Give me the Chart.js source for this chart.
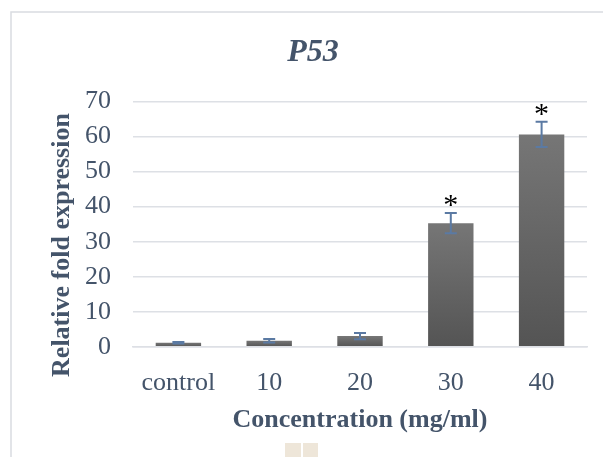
<!DOCTYPE html>
<html>
<head>
<meta charset="utf-8">
<script src="https://cdn.jsdelivr.net/npm/chart.js@4/dist/chart.umd.min.js"></script>
<style>
  html, body { margin: 0; padding: 0; background: #ffffff; }
  #wrap { width: 603px; height: 457px; position: relative; }
</style>
</head>
<body>
<div id="wrap"><canvas id="chart" width="603" height="457"></canvas></div>
<script>
// P53 relative fold expression by concentration
const categories = ['control', '10', '20', '30', '40'];
const foldExpression = [1.2, 1.8, 3.1, 35.3, 60.6];
const errorValues = [0.2, 0.5, 0.9, 2.9, 3.6];
const significance = ['', '', '', '*', '*'];
const yTicks = [0, 10, 20, 30, 40, 50, 60, 70];

const TEXT = '#44546a';
const GRID = '#dde0e5';
const SERIF = "'Liberation Serif', 'Times New Roman', serif";

// Frame round the chart, plus the small marks under the axis title
const framePlugin = {
  id: 'frame',
  beforeDraw(chart) {
    const c = chart.ctx;
    c.save();
    c.fillStyle = '#ffffff';
    c.fillRect(0, 0, chart.width, chart.height);
    c.strokeStyle = '#d9dce1';
    c.lineWidth = 1.5;
    c.beginPath();
    c.moveTo(11, chart.height + 2);
    c.lineTo(11, 12);
    c.lineTo(chart.width + 2, 12);
    c.stroke();
    c.fillStyle = '#eee6d9';
    c.fillRect(285, 443, 16, 14);
    c.fillRect(303, 443, 15, 14);
    c.restore();
  }
};

// Error bars and significance marks, placed through the y scale
const errorBarPlugin = {
  id: 'errorBars',
  afterDatasetsDraw(chart) {
    const c = chart.ctx;
    const ys = chart.scales.y;
    const meta = chart.getDatasetMeta(0);
    c.save();
    meta.data.forEach((bar, i) => {
      const v = foldExpression[i], e = errorValues[i];
      const yTop = ys.getPixelForValue(v + e);
      const yBot = ys.getPixelForValue(v - e);
      const x = bar.x;
      c.strokeStyle = '#5b7aa3';
      c.lineWidth = 2;
      c.beginPath();
      c.moveTo(x, yTop); c.lineTo(x, yBot);
      c.moveTo(x - 6, yTop); c.lineTo(x + 6, yTop);
      c.moveTo(x - 6, yBot); c.lineTo(x + 6, yBot);
      c.stroke();
      if (significance[i]) {
        c.fillStyle = '#000000';
        c.font = '30px ' + SERIF;
        c.textAlign = 'center';
        c.textBaseline = 'alphabetic';
        c.fillText(significance[i], x, yTop + 1);
      }
    });
    c.restore();
  }
};

// Vertical axis title
const yTitlePlugin = {
  id: 'yTitle',
  afterDraw(chart) {
    const c = chart.ctx;
    c.save();
    c.translate(62, 245);
    c.rotate(-Math.PI / 2);
    c.fillStyle = TEXT;
    c.font = 'bold 26px ' + SERIF;
    c.textAlign = 'center';
    c.textBaseline = 'middle';
    c.fillText('Relative fold expression', 0, 0);
    c.restore();
  }
};

// Centre the chart title over the full frame width
const titleSpanPlugin = {
  id: 'titleSpan',
  afterLayout(chart) {
    if (chart.titleBlock) {
      chart.titleBlock.left = 23;
      chart.titleBlock.right = 603;
    }
  }
};

function barGradient(ctx) {
  const chart = ctx.chart;
  const ys = chart.scales.y;
  if (!ys || ctx.type !== 'data' || !isFinite(ys.getPixelForValue(0))) return '#606060';
  const top = ys.getPixelForValue(ctx.raw);
  const base = ys.getPixelForValue(0);
  if (!isFinite(top) || Math.abs(base - top) < 0.5) return '#606060';
  const g = chart.ctx.createLinearGradient(0, top, 0, base);
  g.addColorStop(0, '#767676');
  g.addColorStop(1, '#545454');
  return g;
}

new Chart(document.getElementById('chart'), {
  type: 'bar',
  data: {
    labels: categories,
    datasets: [{
      data: foldExpression,
      backgroundColor: barGradient,
      borderWidth: 0,
      categoryPercentage: 1.0,
      barPercentage: 0.5
    }]
  },
  options: {
    responsive: false,
    animation: false,
    events: [],
    layout: { padding: { left: 0, right: 16, top: 0, bottom: 0 } },
    plugins: {
      legend: { display: false },
      tooltip: { enabled: false },
      title: {
        display: true,
        text: 'P53',
        color: TEXT,
        font: { family: SERIF, size: 32, weight: 'bold', style: 'italic', lineHeight: 1.2 },
        padding: { top: 34, bottom: 29 }
      }
    },
    scales: {
      x: {
        grid: { display: false },
        border: { display: true, color: GRID, width: 1.5, z: 1 },
        ticks: {
          color: TEXT,
          font: { family: SERIF, size: 26 },
          padding: 13,
          maxRotation: 0
        },
        title: {
          display: true,
          text: 'Concentration (mg/ml)',
          color: TEXT,
          font: { family: SERIF, size: 26, weight: 'bold', lineHeight: 1.2 },
          padding: { top: 0, bottom: 21 }
        },
        afterFit(scale) { scale.height = 110; }
      },
      y: {
        min: 0,
        max: 70,
        afterBuildTicks(scale) { scale.ticks = yTicks.map(v => ({ value: v })); },
        grid: { color: GRID, lineWidth: 1.5, drawTicks: false },
        border: { display: false },
        ticks: {
          color: TEXT,
          font: { family: SERIF, size: 26 },
          padding: 22
        },
        afterFit(scale) { scale.width = 133; }
      }
    }
  },
  plugins: [framePlugin, titleSpanPlugin, errorBarPlugin, yTitlePlugin]
});
</script>
</body>
</html>
